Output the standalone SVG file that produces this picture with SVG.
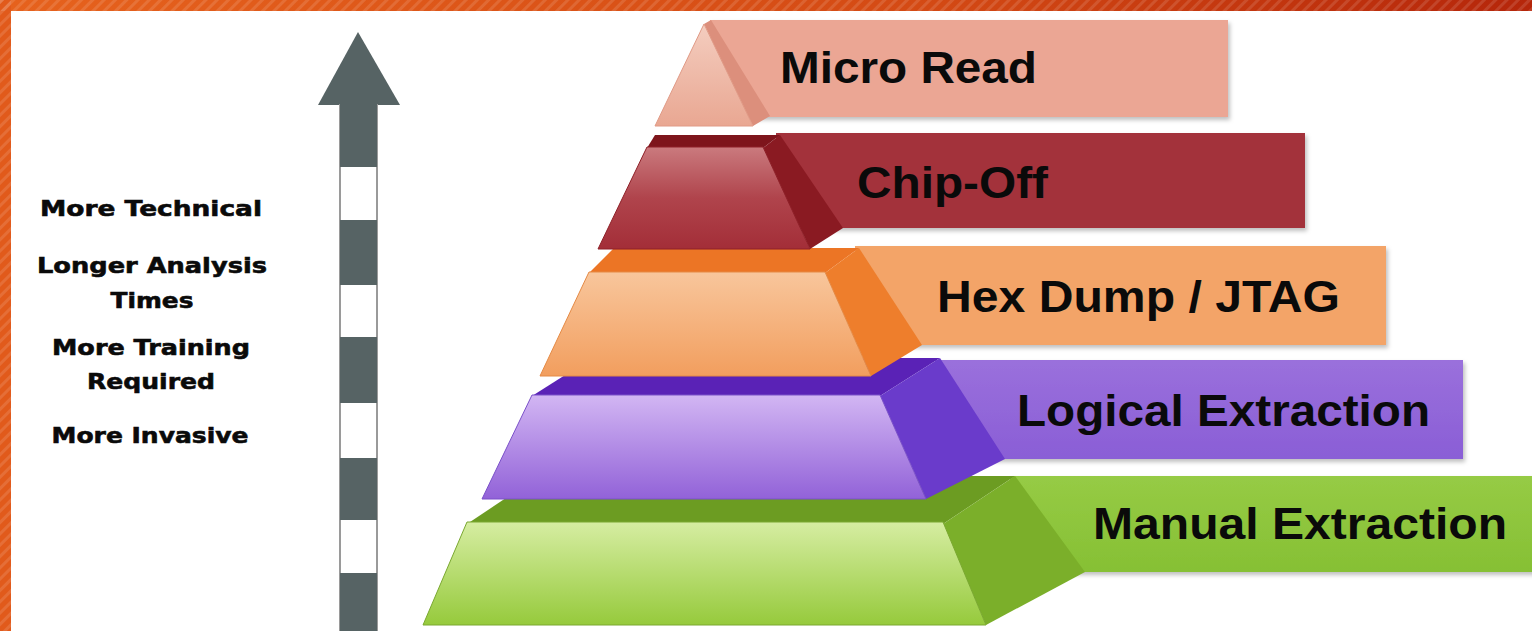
<svg xmlns="http://www.w3.org/2000/svg" width="1532" height="631" viewBox="0 0 1532 631">
<defs>
<style>
.lbl{font-family:"Liberation Sans",Arial,sans-serif;font-weight:bold;font-size:44px;fill:#0a0a0a}
.side{font-family:"DejaVu Sans","Liberation Sans",sans-serif;font-weight:bold;font-size:22px;fill:#0a0a0a;stroke:#0a0a0a;stroke-width:0.6;text-anchor:middle}
.dark{fill:#566364}
</style>
<linearGradient id="frameG" x1="0" y1="0" x2="1" y2="0">
<stop offset="0" stop-color="#E6621D"/><stop offset="0.6" stop-color="#D44A14"/><stop offset="1" stop-color="#B5260A"/>
</linearGradient>
<pattern id="stripes" width="8" height="8" patternUnits="userSpaceOnUse" patternTransform="rotate(45)">
<rect width="8" height="8" fill="none"/><rect width="3" height="8" fill="#ffffff" fill-opacity="0.12"/>
</pattern>
<filter id="sh" x="-5%" y="-10%" width="112%" height="130%">
<feDropShadow dx="2" dy="3" stdDeviation="2" flood-color="#000" flood-opacity="0.25"/>
</filter>
<linearGradient id="gMicro" x1="0" y1="0" x2="0" y2="1"><stop offset="0" stop-color="#F4CDBF"/><stop offset="1" stop-color="#E9A792"/></linearGradient>
<linearGradient id="gChip" x1="0" y1="0" x2="0" y2="1"><stop offset="0" stop-color="#CA7A7E"/><stop offset="0.5" stop-color="#B0444C"/><stop offset="1" stop-color="#A32E38"/></linearGradient>
<linearGradient id="gHex" x1="0" y1="0" x2="0" y2="1"><stop offset="0" stop-color="#F8C69C"/><stop offset="1" stop-color="#F29E5E"/></linearGradient>
<linearGradient id="gLog" x1="0" y1="0" x2="0" y2="1"><stop offset="0" stop-color="#D2B6F3"/><stop offset="1" stop-color="#9262D8"/></linearGradient>
<linearGradient id="gMan" x1="0" y1="0" x2="0" y2="1"><stop offset="0" stop-color="#D6EDA2"/><stop offset="1" stop-color="#96CA3C"/></linearGradient>
<linearGradient id="bLog" x1="0" y1="0" x2="0" y2="1"><stop offset="0" stop-color="#9A70DC"/><stop offset="1" stop-color="#8A5ED6"/></linearGradient>
<linearGradient id="bMan" x1="0" y1="0" x2="0" y2="1"><stop offset="0" stop-color="#96CB45"/><stop offset="1" stop-color="#86C034"/></linearGradient>
</defs>

<rect width="1532" height="631" fill="#ffffff"/>

<g id="frame">
<rect x="0" y="0" width="1532" height="11" fill="url(#frameG)"/>
<rect x="0" y="0" width="11" height="631" fill="#E15A1B"/>
<rect x="0" y="0" width="1532" height="11" fill="url(#stripes)"/>
<rect x="0" y="0" width="11" height="631" fill="url(#stripes)"/>
</g>

<g id="scale-arrow">
<polygon class="dark" points="358,32 400,105 318,105"/>
<rect x="340" y="105" width="37" height="530" fill="#ffffff" stroke="#9a9a9a" stroke-width="2"/>
<rect class="dark" x="340" y="103" width="37" height="64"/>
<rect class="dark" x="340" y="220" width="37" height="65"/>
<rect class="dark" x="340" y="337" width="37" height="66"/>
<rect class="dark" x="340" y="458" width="37" height="62"/>
<rect class="dark" x="340" y="573" width="37" height="60"/>
</g>

<g id="scale-labels">
<text class="side" x="151" y="216" textLength="222" lengthAdjust="spacingAndGlyphs">More Technical</text>
<text class="side" x="152" y="273" textLength="230" lengthAdjust="spacingAndGlyphs">Longer Analysis</text>
<text class="side" x="152" y="308" textLength="83" lengthAdjust="spacingAndGlyphs">Times</text>
<text class="side" x="151" y="355" textLength="198" lengthAdjust="spacingAndGlyphs">More Training</text>
<text class="side" x="151" y="389" textLength="128" lengthAdjust="spacingAndGlyphs">Required</text>
<text class="side" x="150" y="443" textLength="197" lengthAdjust="spacingAndGlyphs">More Invasive</text>
</g>

<g id="manual-extraction">
<rect x="1010" y="476" width="540" height="96" fill="url(#bMan)" filter="url(#sh)"/>
<polygon points="467,524 943,524 1015,476 539,476" fill="#6C9C22"/>
<polygon points="943,524 1015,476 1085,572 986,625" fill="#7BAF2A"/>
<polygon points="467,522 943,522 986,625 423,625" fill="url(#gMan)" stroke="#7AA830" stroke-width="1"/>
<text class="lbl" x="1093" y="539" textLength="414" lengthAdjust="spacingAndGlyphs">Manual Extraction</text>
</g>

<g id="logical-extraction">
<rect x="935" y="360" width="528" height="99" fill="url(#bLog)" filter="url(#sh)"/>
<polygon points="532,396 880,396 940,358 592,358" fill="#5A22B6"/>
<polygon points="880,396 940,358 1005,459 926,499" fill="#6A3BCB"/>
<polygon points="532,395 880,395 926,499 482,499" fill="url(#gLog)" stroke="#7A50C8" stroke-width="1"/>
<text class="lbl" x="1017" y="426" textLength="413" lengthAdjust="spacingAndGlyphs">Logical Extraction</text>
</g>

<g id="hex-dump-jtag">
<rect x="855" y="246" width="531" height="99" fill="#F3A467" filter="url(#sh)"/>
<polygon points="589,273 825,273 859,248 614,248" fill="#EC7525"/>
<polygon points="825,273 859,248 922,345 871,376" fill="#EE7E2C"/>
<polygon points="589,272 825,272 871,376 540,376" fill="url(#gHex)" stroke="#E58A45" stroke-width="1"/>
<text class="lbl" x="937" y="312" textLength="403" lengthAdjust="spacingAndGlyphs">Hex Dump / JTAG</text>
</g>

<g id="chip-off">
<rect x="776" y="133" width="529" height="95" fill="#A3323A" filter="url(#sh)"/>
<polygon points="647,148 763,148 780,135 655,135" fill="#7E151C"/>
<polygon points="763,148 780,135 843,228 810,249" fill="#8A1A22"/>
<polygon points="647,147 763,147 810,249 598,249" fill="url(#gChip)" stroke="#8E2028" stroke-width="1"/>
<text class="lbl" x="857" y="198" textLength="191" lengthAdjust="spacingAndGlyphs">Chip-Off</text>
</g>

<g id="micro-read">
<rect x="710" y="20" width="518" height="97" fill="#EBA694" filter="url(#sh)"/>
<polygon points="704,24 711,20 770,116 753,126" fill="#DC8F7C"/>
<polygon points="704,24 753,126 655,126" fill="url(#gMicro)" stroke="#E09A86" stroke-width="1"/>
<text class="lbl" x="780" y="83" textLength="257" lengthAdjust="spacingAndGlyphs">Micro Read</text>
</g>
</svg>
